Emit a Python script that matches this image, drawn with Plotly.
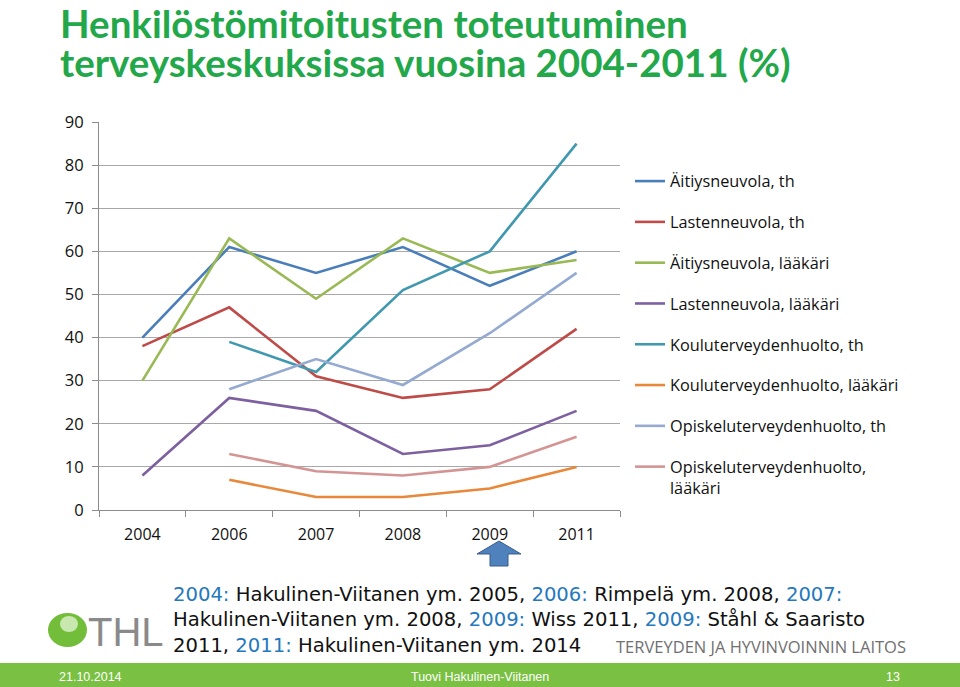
import plotly.graph_objects as go

# ---------------- data ----------------
years = ["2004", "2006", "2007", "2008", "2009", "2011"]

aitiys_th = [40, 61, 55, 61, 52, 60]
lasten_th = [38, 47, 31, 26, 28, 42]
aitiys_laak = [30, 63, 49, 63, 55, 58]
lasten_laak = [8, 26, 23, 13, 15, 23]
koulu_th = [None, 39, 32, 51, 60, 85]
koulu_laak = [None, 7, 3, 3, 5, 10]
opisk_th = [None, 28, 35, 29, 41, 55]
opisk_laak = [None, 13, 9, 8, 10, 17]

series_names = [
    "Äitiysneuvola, th",
    "Lastenneuvola, th",
    "Äitiysneuvola, lääkäri",
    "Lastenneuvola, lääkäri",
    "Kouluterveydenhuolto, th",
    "Kouluterveydenhuolto, lääkäri",
    "Opiskeluterveydenhuolto, th",
    "Opiskeluterveydenhuolto,<br>lääkäri",
]
series_values = [aitiys_th, lasten_th, aitiys_laak, lasten_laak,
                 koulu_th, koulu_laak, opisk_th, opisk_laak]
series_colors = ["#4A7EBB", "#BE4B48", "#98B954", "#7D60A0",
                 "#4198AF", "#E8883A", "#95AAD0", "#D39594"]

y_ticks = [0, 10, 20, 30, 40, 50, 60, 70, 80, 90]

title_lines = ["Henkilöstömitoitusten toteutuminen",
               "terveyskeskuksissa vuosina 2004-2011 (%)"]

blue = "#2478BE"
source_lines = [
    f"<span style='color:{blue}'>2004:</span> Hakulinen-Viitanen ym. 2005, "
    f"<span style='color:{blue}'>2006:</span> Rimpelä ym. 2008, "
    f"<span style='color:{blue}'>2007:</span>",
    f"Hakulinen-Viitanen ym. 2008, <span style='color:{blue}'>2009:</span> Wiss 2011, "
    f"<span style='color:{blue}'>2009:</span> Ståhl &amp; Saaristo",
    f"2011, <span style='color:{blue}'>2011:</span> Hakulinen-Viitanen ym. 2014",
]

# ---------------- layout geometry ----------------
W, H = 960, 687
L, R, T, B = 99, 340, 122, 177
PW = W - L - R
PH = H - T - B


def px(x):
    return (x - L) / PW


def py(y):
    return (H - B - y) / PH


fig = go.Figure()
for i, (name, vals, col) in enumerate(zip(series_names, series_values, series_colors)):
    fig.add_trace(go.Scatter(
        x=years, y=vals, name=name, mode="lines",
        line=dict(color=col, width=2.6),
        legendgroup=f"g{i}",
        connectgaps=False,
    ))

font_family = "Open Sans, sans-serif"

fig.update_layout(
    width=W, height=H,
    margin=dict(l=L, r=R, t=T, b=B),
    paper_bgcolor="white",
    plot_bgcolor="white",
    showlegend=True,
    legend=dict(
        x=px(630), y=py(164), xanchor="left", yanchor="top",
        font=dict(family=font_family, size=16.3, color="#111"),
        tracegroupgap=16.6,
        valign="top",
        bgcolor="rgba(0,0,0,0)",
        itemclick=False,
    ),
    xaxis=dict(
        type="category",
        range=[-0.5, 5.5],
        showgrid=False,
        showline=True, linecolor="#8C8C8C", linewidth=1,
        ticks="outside", ticklen=6, tickcolor="#8C8C8C",
        tickson="boundaries",
        tickfont=dict(family=font_family, size=16, color="#111"),
        ticklabelstandoff=10,
        fixedrange=True,
    ),
    yaxis=dict(
        range=[0, 90],
        tickvals=y_ticks,
        showgrid=True, gridcolor="#A8A8A8", gridwidth=1,
        zeroline=False,
        showline=True, linecolor="#8C8C8C", linewidth=1,
        ticks="outside", ticklen=6, tickcolor="#8C8C8C",
        tickfont=dict(family=font_family, size=16.5, color="#111"),
        ticklabelstandoff=5,
        fixedrange=True,
    ),
)

annotations = []
# title: one block, line spacing set by the base font size (1.3 * 30 = 39 px)
title_text = "<br>".join(f"<b><span style='font-size:38.5px'>{ln}</span></b>" for ln in title_lines)
annotations.append(dict(
    x=px(58), y=py(42), xref="paper", yref="paper",
    xanchor="left", yanchor="middle", showarrow=False, align="left",
    text=title_text, font=dict(family="Lato, sans-serif", size=30, color="#22A84A"),
))

# source text (one block)
annotations.append(dict(
    x=px(171), y=py(620), xref="paper", yref="paper",
    xanchor="left", yanchor="middle", showarrow=False, align="left",
    text="<br>".join(source_lines),
    font=dict(family="DejaVu Sans, sans-serif", size=19.6, color="#111"),
))

# THL texts
annotations.append(dict(
    x=px(86), y=py(632), xref="paper", yref="paper",
    xanchor="left", yanchor="middle", showarrow=False,
    text="THL", font=dict(family="Liberation Sans, sans-serif", size=40, color="#8A8A8A"),
))
annotations.append(dict(
    x=px(614), y=py(646), xref="paper", yref="paper",
    xanchor="left", yanchor="middle", showarrow=False,
    text="TERVEYDEN JA HYVINVOINNIN LAITOS",
    font=dict(family="Open Sans, sans-serif", size=16.5, color="#707070"),
))

# footer texts
footer_font = dict(family="Liberation Sans, sans-serif", size=12.5, color="white")
annotations.append(dict(x=px(57), y=py(677), xref="paper", yref="paper",
                        xanchor="left", yanchor="middle", showarrow=False,
                        text="21.10.2014", font=footer_font))
annotations.append(dict(x=px(480), y=py(677), xref="paper", yref="paper",
                        xanchor="center", yanchor="middle", showarrow=False,
                        text="Tuovi Hakulinen-Viitanen", font=footer_font))
annotations.append(dict(x=px(902), y=py(677), xref="paper", yref="paper",
                        xanchor="right", yanchor="middle", showarrow=False,
                        text="13", font=footer_font))

fig.update_layout(annotations=annotations)

shapes = []
# footer band
shapes.append(dict(type="rect", xref="paper", yref="paper",
                   x0=px(-2), x1=px(W + 2), y0=py(663), y1=py(H + 2),
                   fillcolor="#7AC143", line=dict(width=0), layer="below"))
# logo sphere
shapes.append(dict(type="circle", xref="paper", yref="paper",
                   x0=px(48), x1=px(87), y0=py(647), y1=py(613),
                   fillcolor="#72BE3A", line=dict(width=0)))
shapes.append(dict(type="circle", xref="paper", yref="paper",
                   x0=px(60), x1=px(78), y0=py(632), y1=py(616),
                   fillcolor="#C9E8B0", line=dict(width=0)))


# arrow under 2009
def pth(points):
    parts = [f"{'M' if k == 0 else 'L'} {px(a):.5f} {py(b):.5f}" for k, (a, b) in enumerate(points)]
    return " ".join(parts) + " Z"


arrow_pts = [(499, 541), (521, 554), (508, 554), (508, 566),
             (490, 566), (490, 554), (477, 554)]
shapes.append(dict(type="path", xref="paper", yref="paper", path=pth(arrow_pts),
                   fillcolor="#4F81BD", line=dict(color="#385D8A", width=1)))

fig.update_layout(shapes=shapes)

fig.write_html("out.html",
               config={"displayModeBar": False},
               post_script="document.body.style.margin='0px';document.body.style.overflow='hidden';")
